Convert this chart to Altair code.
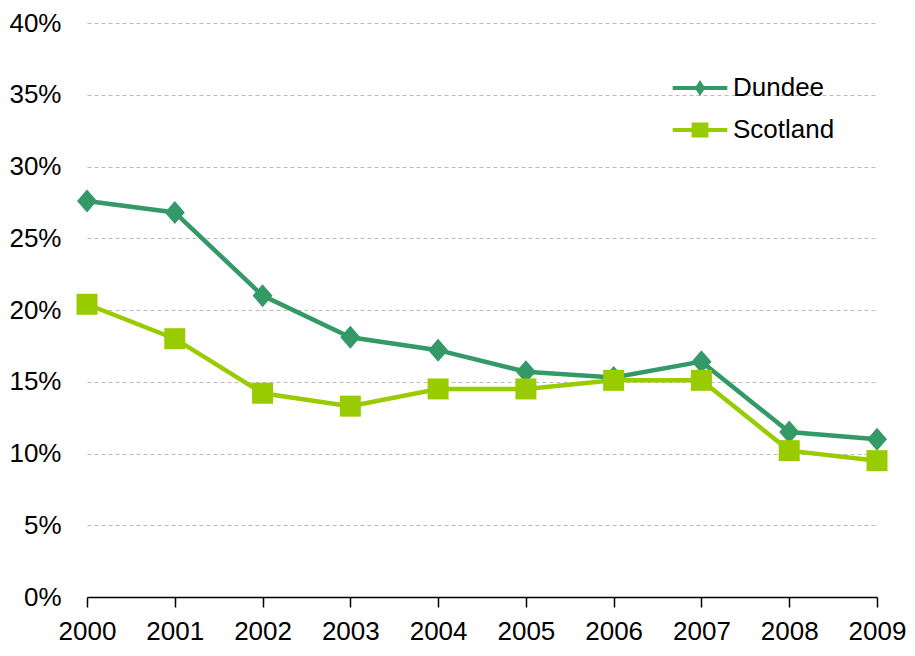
import altair as alt
import pandas as pd

years = [2000, 2001, 2002, 2003, 2004, 2005, 2006, 2007, 2008, 2009]
dundee = [27.6, 26.8, 21.0, 18.1, 17.2, 15.7, 15.3, 16.4, 11.5, 11.0]
scotland = [20.4, 18.0, 14.2, 13.3, 14.5, 14.5, 15.1, 15.1, 10.2, 9.5]
series_names = ["Dundee", "Scotland"]
series_colors = ["#339966", "#99cc00"]
y_ticks = [0, 5, 10, 15, 20, 25, 30, 35, 40]

df = pd.DataFrame({
    "year": years * 2,
    "value": dundee + scotland,
    "series": [series_names[0]] * len(years) + [series_names[1]] * len(years),
})

FONT = "Liberation Sans"
DIAMOND = "M0,-1.15L1,0L0,1.15L-1,0Z"
LEG_DIAMOND = "M-3.9,-0.27L3.9,-0.27L3.9,0.27L-3.9,0.27Z M0,-1.15L0.75,0L0,1.15L-0.75,0Z"
LEG_SQUARE = "M-3.9,-0.27L3.9,-0.27L3.9,0.27L-3.9,0.27Z M-1.2,-1.07L1.2,-1.07L1.2,1.07L-1.2,1.07Z"

x_enc = alt.X(
    "year:O",
    scale=alt.Scale(type="point", padding=0),
    axis=alt.Axis(title=None, labelAngle=0, grid=False, domainColor="#000000",
                  domainWidth=1.5, tickColor="#000000", tickWidth=1.5, tickSize=10,
                  labelPadding=11, labelFontSize=26, labelFont=FONT, labelColor="#000000"),
)
y_enc = alt.Y(
    "value:Q",
    scale=alt.Scale(domain=[0, 40], nice=False),
    axis=alt.Axis(title=None, values=y_ticks, labelExpr="datum.value + '%'",
                  domain=False, ticks=False, grid=True, gridDash=[4, 3],
                  gridColor="#bbbbbb", gridWidth=1, labelPadding=26,
                  labelFontSize=26, labelFont=FONT, labelColor="#000000"),
)

base = alt.Chart(df).encode(x=x_enc, y=y_enc)

d_line = base.transform_filter("datum.series == 'Dundee'").mark_line(
    color=series_colors[0], strokeWidth=4.5)
d_pts = base.transform_filter("datum.series == 'Dundee'").mark_point(
    shape=DIAMOND, size=400, filled=True, color=series_colors[0], opacity=1)
s_line = base.transform_filter("datum.series == 'Scotland'").mark_line(
    color=series_colors[1], strokeWidth=4.5)
s_pts = base.transform_filter("datum.series == 'Scotland'").mark_point(
    shape="square", size=441, filled=True, color=series_colors[1], opacity=1)

leg = alt.Legend(title=None, orient="none", legendX=600, legendY=52,
                 symbolSize=196, symbolStrokeWidth=0, labelOffset=20,
                 labelFontSize=26, labelFont=FONT, labelColor="#000000",
                 rowPadding=16, padding=0)

legend_layer = base.transform_filter("false").mark_point(filled=True, opacity=1).encode(
    color=alt.Color("series:N", scale=alt.Scale(domain=series_names, range=series_colors), legend=leg),
    shape=alt.Shape("series:N", scale=alt.Scale(domain=series_names, range=[LEG_DIAMOND, LEG_SQUARE]), legend=leg),
)

chart = alt.layer(d_line, d_pts, s_line, s_pts, legend_layer).properties(
    width=790, height=574,
    autosize=alt.AutoSizeParams(type="none"),
    padding={"left": 79, "top": 15, "right": 29, "bottom": 47},
).configure_view(stroke=None)

chart.save("out.html", embed_options={"renderer": "svg", "actions": False})
